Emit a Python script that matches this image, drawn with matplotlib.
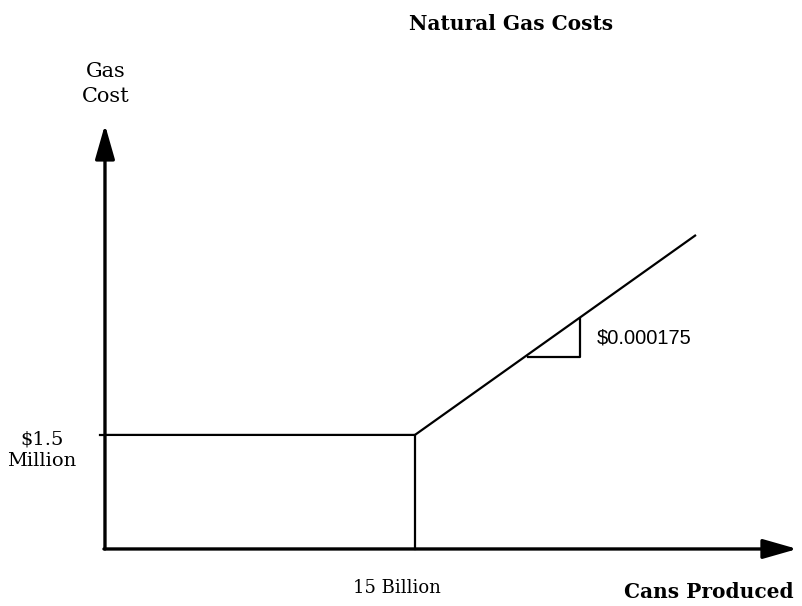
import matplotlib.pyplot as plt

# cost curve, x in billions of cans, y in millions of dollars
curve_x = [0, 15, 28.6]
curve_y = [1.5, 1.5, 4.13]

# slope marker triangle
tri_x = [20.47, 22.98, 22.98]
tri_y = [2.526, 2.526, 3.03]

break_x = 15
break_y = 1.5
x_axis_end = 33.5
y_axis_end = 5.58

title = "Natural Gas Costs"
y_label = "Gas\nCost"
x_label = "Cans Produced"
break_x_label = "15 Billion"
break_y_label = "$1.5\nMillion"
slope_label = "$0.000175"

fig = plt.figure(figsize=(8.02, 6.06), dpi=100)
ax = fig.add_axes([0, 0, 1, 1])
ax.set_xlim(-5.08, 33.73)
ax.set_ylim(-0.75, 7.22)
ax.axis('off')

#axes with arrows
arrow = dict(arrowstyle='-|>,head_length=0.7,head_width=0.2', lw=2.4, color='k',
             mutation_scale=30, shrinkA=0, shrinkB=0)
ax.annotate('', xy=(x_axis_end, 0), xytext=(-0.05, 0), arrowprops=arrow)
ax.annotate('', xy=(0, y_axis_end), xytext=(0, 0.0), arrowprops=arrow)

#cost curve and the break point drop line
lw = 1.6
ax.plot(curve_x, curve_y, color='k', lw=lw, solid_capstyle='butt')
ax.plot([break_x, break_x], [0, break_y], color='k', lw=lw)
ax.plot([-0.25, 0], [break_y, break_y], color='k', lw=lw)
ax.plot(tri_x, tri_y, color='k', lw=lw)

serif = 'DejaVu Serif'
ax.text(19.65, 6.91, title, ha='center', va='center', fontsize=14.5,
        fontweight='bold', family=serif)
ax.text(0.05, 6.12, y_label, ha='center', va='center', fontsize=15,
        family=serif, linespacing=1.4)
ax.text(-3.05, 1.30, break_y_label, ha='center', va='center', fontsize=14,
        family=serif, linespacing=1.25)
ax.text(14.15, -0.51, break_x_label, ha='center', va='center', fontsize=13,
        family=serif)
ax.text(29.2, -0.57, x_label, ha='center', va='center', fontsize=14.5,
        fontweight='bold', family=serif)
ax.text(23.8, 2.78, slope_label, ha='left', va='center', fontsize=14.5,
        family='Liberation Sans')

fig.savefig('out.png', dpi=100)
